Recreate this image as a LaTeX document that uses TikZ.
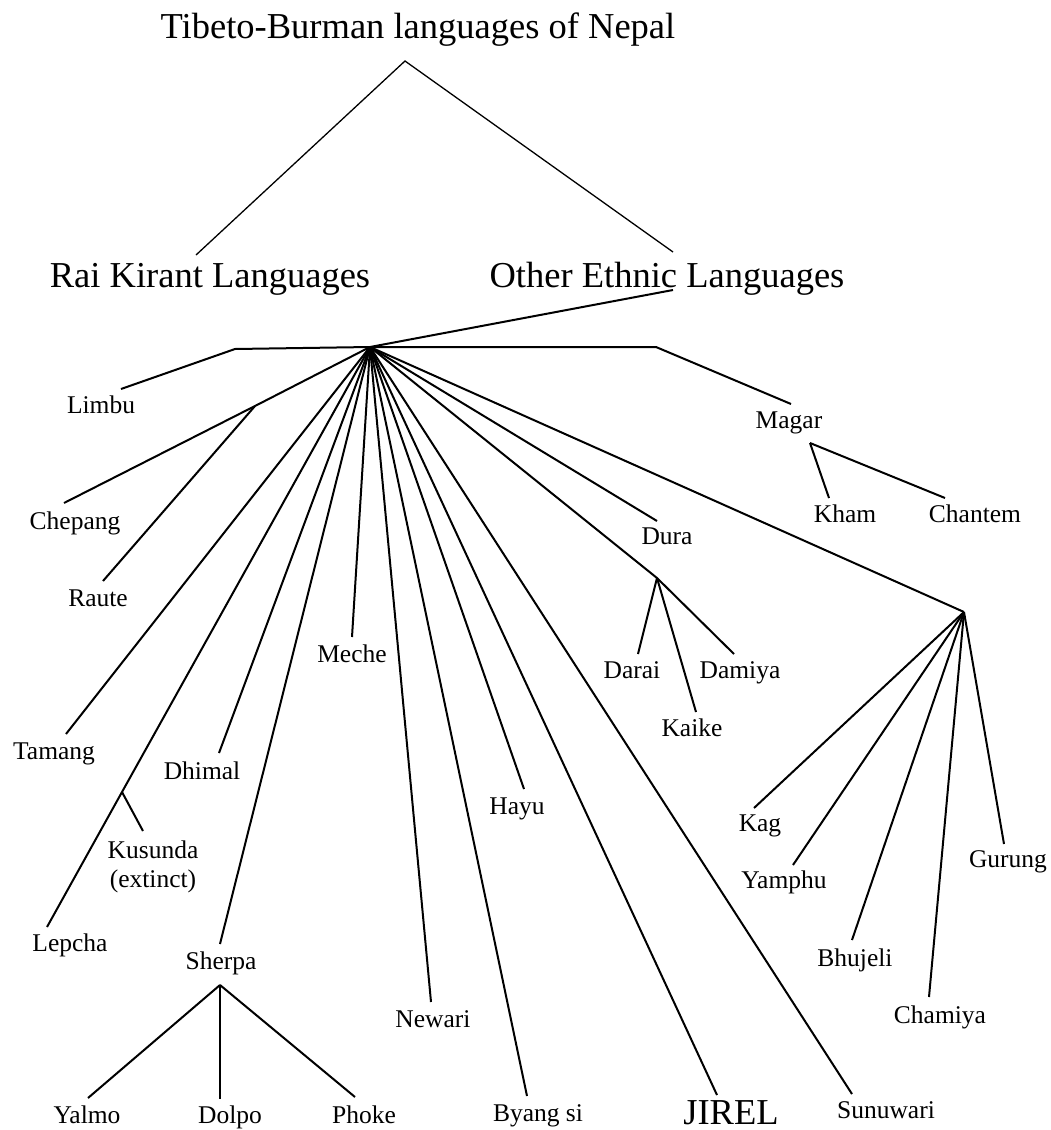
\documentclass[tikz,border=0pt]{standalone}
\usepackage{fontspec}
\setmainfont{Liberation Serif}
\tikzset{
  lbl/.style={anchor=base, inner sep=0pt, font=\fontsize{25.5}{29}\selectfont},
  big/.style={anchor=base, inner sep=0pt, font=\fontsize{36.5}{42}\selectfont},
  br/.style={line width=2pt, line join=miter},
  topline/.style={line width=1.3pt}
}
\begin{document}
\begin{tikzpicture}[x=1pt,y=-1pt]
\useasboundingbox (0,0) rectangle (1051,1130);
% big labels
\node[big] (title) at (418,38) {Tibeto-Burman languages of Nepal};
\node[big] (rai) at (210,287) {Rai Kirant Languages};
\node[big] (oth) at (667,287) {Other Ethnic Languages};
\node[big] (jirel) at (731,1124) {JIREL};
% small labels
\node[lbl] (limbu) at (101,413) {Limbu};
\node[lbl] (chepang) at (75,529) {Chepang};
\node[lbl] (raute) at (98,606) {Raute};
\node[lbl] (meche) at (352,662) {Meche};
\node[lbl] (tamang) at (54,759) {Tamang};
\node[lbl] (dhimal) at (202,779) {Dhimal};
\node[lbl, anchor=north, align=center] (kusunda) at (153,840.5) {Kusunda\\(extinct)};
\node[lbl] (lepcha) at (70,951) {Lepcha};
\node[lbl] (sherpa) at (221,969) {Sherpa};
\node[lbl] (yalmo) at (87,1123) {Yalmo};
\node[lbl] (dolpo) at (230,1123) {Dolpo};
\node[lbl] (phoke) at (364,1123) {Phoke};
\node[lbl] (newari) at (433,1027) {Newari};
\node[lbl] (byangsi) at (538,1121) {Byang si};
\node[lbl] (hayu) at (517,814) {Hayu};
\node[lbl] (sunuwari) at (886,1118) {Sunuwari};
\node[lbl] (dura) at (667,544) {Dura};
\node[lbl] (darai) at (632,678) {Darai};
\node[lbl] (damiya) at (740,678) {Damiya};
\node[lbl] (kaike) at (692,736) {Kaike};
\node[lbl] (kag) at (760,831) {Kag};
\node[lbl] (yamphu) at (784,888) {Yamphu};
\node[lbl] (gurung) at (1008,867) {Gurung};
\node[lbl] (bhujeli) at (855,966) {Bhujeli};
\node[lbl] (chamiya) at (940,1023) {Chamiya};
\node[lbl] (magar) at (789,428) {Magar};
\node[lbl] (kham) at (845,522) {Kham};
\node[lbl] (chantem) at (975,522) {Chantem};
% connector points
\coordinate (apex) at (405,61);
\coordinate (raiE) at (196,255);
\coordinate (othE) at (673,252);
\coordinate (othB) at (673,290);
\coordinate (hub) at (370,347);
\coordinate (hl) at (235,349);
\coordinate (limbuE) at (121,389);
\coordinate (chepJ) at (255,406);
\coordinate (chepangE) at (64,503);
\coordinate (rauteE) at (103,581);
\coordinate (tamangE) at (66,734);
\coordinate (kusJ) at (122,792);
\coordinate (lepchaE) at (47,927);
\coordinate (kusundaE) at (143,831);
\coordinate (dhimalE) at (219,753);
\coordinate (sherpaE) at (220,944);
\coordinate (sherpaJ) at (220,985);
\coordinate (yalmoE) at (88,1098);
\coordinate (dolpoE) at (220,1099);
\coordinate (phokeE) at (355,1097);
\coordinate (mecheE) at (352,637);
\coordinate (newariE) at (431,1002);
\coordinate (byangE) at (527,1096);
\coordinate (hayuE) at (524,789);
\coordinate (jirelE) at (717,1095);
\coordinate (sunuwariE) at (852,1094);
\coordinate (duraE) at (657,521);
\coordinate (duraJ) at (657,578);
\coordinate (damiyaE) at (734,654);
\coordinate (daraiE) at (638,654);
\coordinate (kaikeE) at (696,712);
\coordinate (hub2) at (964,612);
\coordinate (kagE) at (754,808);
\coordinate (yamphuE) at (793,865);
\coordinate (bhujeliE) at (852,940);
\coordinate (chamiyaE) at (929,997);
\coordinate (gurungE) at (1004,844);
\coordinate (hr) at (656,347);
\coordinate (magarE) at (791,404);
\coordinate (magarJ) at (810,443);
\coordinate (khamE) at (829,498);
\coordinate (chantemE) at (945,498);
% connectors
\draw[topline] (raiE) -- (apex) -- (othE);
\draw[br] (othB) -- (hub);
\draw[br] (hub) -- (hl) -- (limbuE);
\draw[br] (hub) -- (chepJ) -- (chepangE);
\draw[br] (chepJ) -- (rauteE);
\draw[br] (hub) -- (tamangE);
\draw[br] (hub) -- (kusJ) -- (lepchaE);
\draw[br] (kusJ) -- (kusundaE);
\draw[br] (hub) -- (dhimalE);
\draw[br] (hub) -- (sherpaE);
\draw[br] (sherpaJ) -- (yalmoE);
\draw[br] (sherpaJ) -- (dolpoE);
\draw[br] (sherpaJ) -- (phokeE);
\draw[br] (hub) -- (mecheE);
\draw[br] (hub) -- (newariE);
\draw[br] (hub) -- (byangE);
\draw[br] (hub) -- (hayuE);
\draw[br] (hub) -- (jirelE);
\draw[br] (hub) -- (sunuwariE);
\draw[br] (hub) -- (duraE);
\draw[br] (hub) -- (duraJ) -- (damiyaE);
\draw[br] (duraJ) -- (daraiE);
\draw[br] (duraJ) -- (kaikeE);
\draw[br] (hub) -- (hub2);
\draw[br] (hub2) -- (kagE);
\draw[br] (hub2) -- (yamphuE);
\draw[br] (hub2) -- (bhujeliE);
\draw[br] (hub2) -- (chamiyaE);
\draw[br] (hub2) -- (gurungE);
\draw[br] (hub) -- (hr) -- (magarE);
\draw[br] (magarJ) -- (khamE);
\draw[br] (magarJ) -- (chantemE);
\end{tikzpicture}
\end{document}
